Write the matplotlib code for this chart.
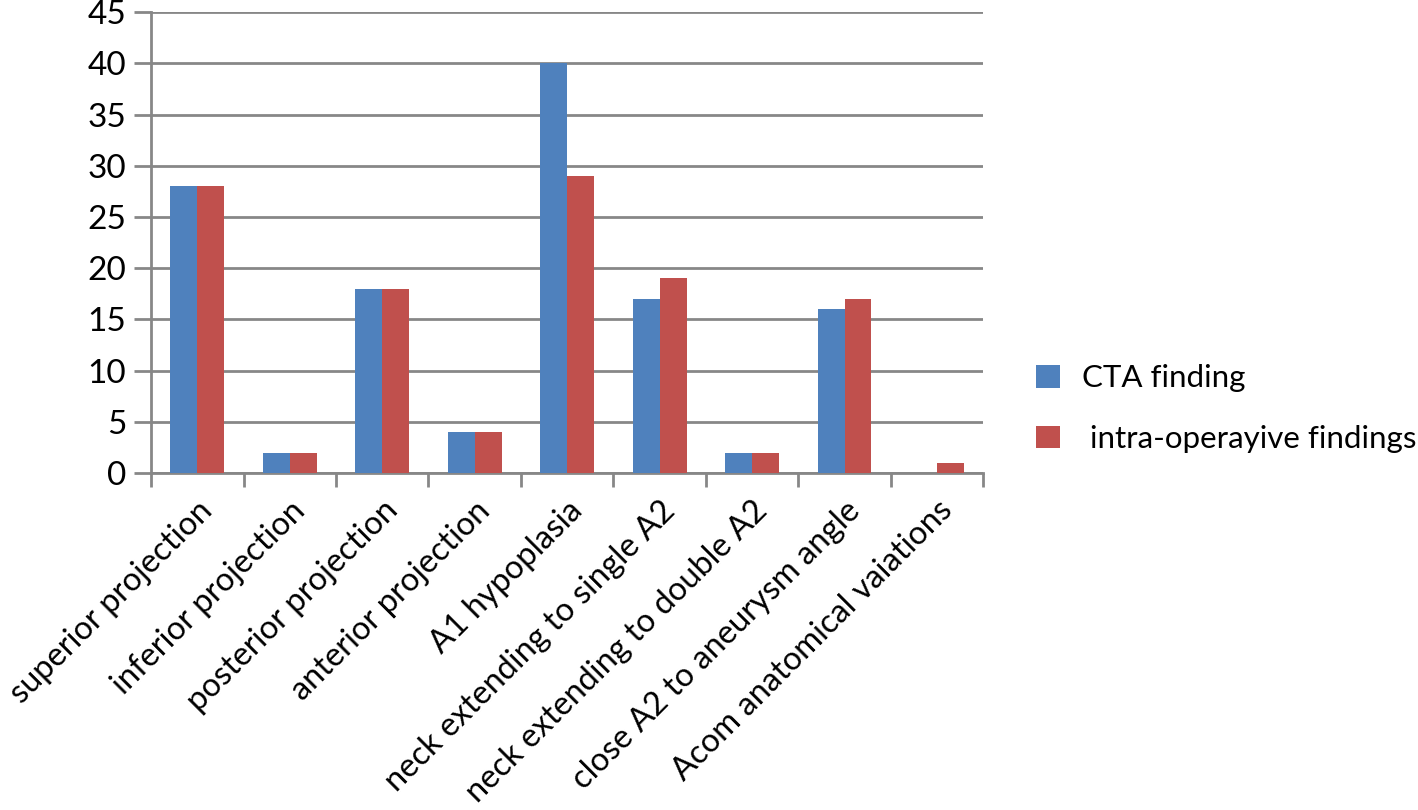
import numpy as np
import matplotlib.pyplot as plt

categories = ['superior projection', 'inferior projection', 'posterior projection',
              'anterior projection', 'A1 hypoplasia', 'neck extending to single A2',
              'neck extending to double A2', 'close A2 to aneurysm angle',
              'Acom anatomical vaiations']
cta = [28, 2, 18, 4, 40, 17, 2, 16, 0]
intra_op = [28, 2, 18, 4, 29, 19, 2, 17, 1]
series_names = ['CTA finding', ' intra-operayive findings']

plt.rcParams['font.family'] = ['Lato', 'DejaVu Sans']

fig = plt.figure(figsize=(14.18, 8.10), dpi=100)
ax = fig.add_axes([0.1065, 0.416, 0.587, 0.569])

x = np.arange(len(categories))
w = 0.29
ax.bar(x - w / 2, cta, w, color='#4F81BD', label=series_names[0], zorder=3)
ax.bar(x + w / 2, intra_op, w, color='#C0504D', label=series_names[1], zorder=3)

grid_col = '#878787'
ax.set_ylim(0, 45)
ax.set_yticks(np.arange(0, 46, 5))
ax.set_xlim(-0.5, len(categories) - 0.5)
ax.yaxis.grid(True, color=grid_col, linewidth=2, zorder=0)

ax.set_xticks(x)
ax.set_xticklabels(categories, rotation=45, ha='right', rotation_mode='anchor',
                   fontsize=23.5)
ax.set_xticks(np.arange(-0.5, len(categories)), minor=True)
ax.tick_params(axis='x', which='major', length=0, pad=16)
ax.tick_params(axis='x', which='minor', length=10, width=2, color=grid_col)
ax.tick_params(axis='y', length=12, width=2, color=grid_col, labelsize=24, pad=6)

for side in ['top', 'right']:
    ax.spines[side].set_visible(False)
for side in ['left', 'bottom']:
    ax.spines[side].set_color(grid_col)
    ax.spines[side].set_linewidth(2)

ax.legend(loc='center left', bbox_to_anchor=(1.03, 0.14), frameon=False,
          fontsize=22.5, handlelength=0.75, handleheight=0.75, labelspacing=1.05,
          handletextpad=0.7)

fig.savefig('out.png', dpi=100)
